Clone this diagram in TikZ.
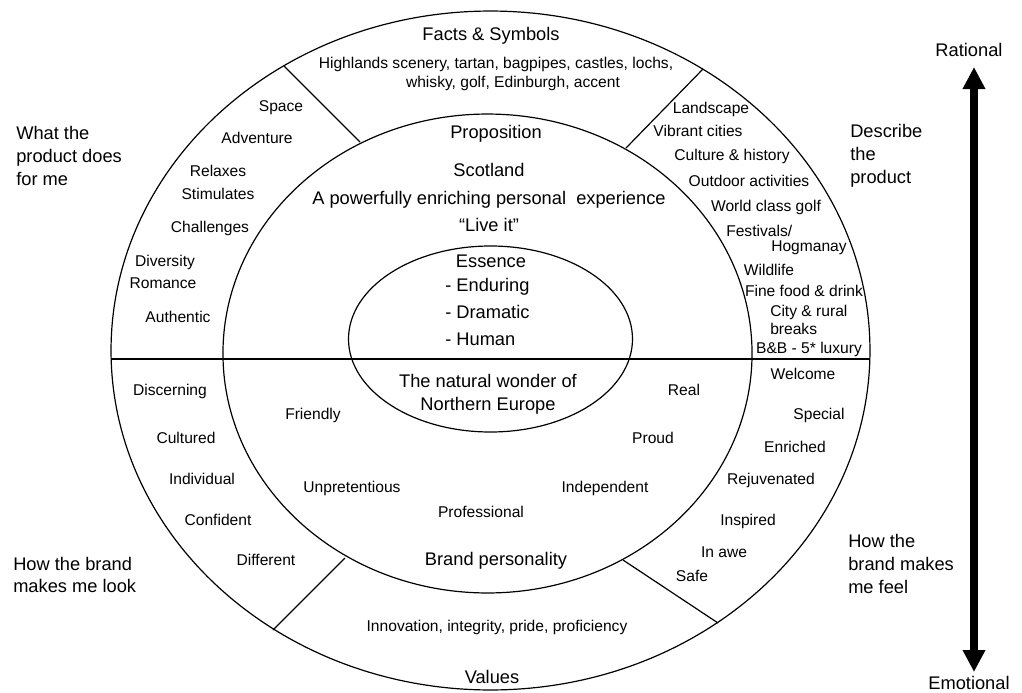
\documentclass[tikz,border=0pt]{standalone}
\usepackage{fontspec}
\setmainfont{Liberation Sans}
\usetikzlibrary{arrows.meta}
\begin{document}
\begin{tikzpicture}[x=0.75pt,y=-0.75pt,
  big/.style={font=\fontsize{13.7}{17.25}\selectfont, inner sep=0pt, text height=0.72em, text depth=0pt},
  small/.style={font=\fontsize{11.7}{14}\selectfont, inner sep=0pt, text height=0.72em, text depth=0pt},
  bigblock/.style={font=\fontsize{13.7}{17.25}\selectfont, inner sep=0pt, align=left, anchor=west},
  ring/.style={line width=0.9pt, black},
  axis/.style={line width=6pt, {Triangle[width=16pt,length=16.5pt]}-{Triangle[width=16pt,length=16.5pt]}}
]
\useasboundingbox (0,0) rectangle (1022,693);

% rings
\draw[ring] (490.5,350.5) ellipse [x radius=284.6pt, y radius=254.6pt];
\draw[ring] (487.5,353.5) ellipse [x radius=198.4pt, y radius=179.6pt];
\draw[ring] (490.5,339) ellipse [x radius=106.5pt, y radius=69.75pt];

% dividers
\coordinate (hl) at (111.1,359);
\coordinate (hr) at (869.9,359);
\coordinate (tlo) at (284,66);
\coordinate (tli) at (360,142);
\coordinate (tro) at (703,69);
\coordinate (tri) at (626,148);
\coordinate (bli) at (345,558);
\coordinate (blo) at (273,630);
\coordinate (bri) at (623,560);
\coordinate (bro) at (718,623);
\draw[ring] (hl) -- (hr);
\draw[ring] (tlo) -- (tli);
\draw[ring] (tro) -- (tri);
\draw[ring] (bli) -- (blo);
\draw[ring] (bri) -- (bro);

% axis arrow
\coordinate (atop) at (974,67);
\coordinate (abot) at (974,672);
\draw[axis] (atop) -- (abot);
\node[big] (rational) at (969,52) {Rational};
\node[big] (emotional) at (969,685) {Emotional};

% outer labels
\node[bigblock] (whatdoes) at (16,156) {What the\\product does\\for me};
\node[bigblock] (describe) at (850,156) {Describe\\the\\product};
\node[bigblock] (feel) at (848,564) {How the\\brand makes\\me feel};
\node[bigblock, font=\fontsize{13.7}{16.5}\selectfont] (look) at (13,575) {How the brand\\makes me look};

% top segment
\node[big] (facts) at (491,36) {Facts \& Symbols};
\node[small] (hl1) at (496,64) {Highlands scenery, tartan, bagpipes, castles, lochs,};
\node[small] (hl2) at (513,83) {whisky, golf, Edinburgh, accent};

% proposition
\node[big] (prop) at (496,134) {Proposition};
\node[big] (scot) at (489,172) {Scotland};
\node[big] (powerful) at (489,200) {A powerfully enriching personal\ \ experience};
\node[big] (live) at (489,227) {“Live it”};

% essence
\node[big] (essence) at (491,263) {Essence};
\node[big, anchor=west] (endur) at (445,287) {- Enduring};
\node[big, anchor=west] (dram) at (445,314) {- Dramatic};
\node[big, anchor=west] (human) at (445,341) {- Human};
\node[big] (natural) at (488,383) {The natural wonder of};
\node[big] (north) at (488,406) {Northern Europe};

% left upper segment
\node[small] (space) at (281,107) {Space};
\node[small] (adv) at (257,139) {Adventure};
\node[small] (relax) at (218,172) {Relaxes};
\node[small] (stim) at (218,195) {Stimulates};
\node[small] (chal) at (210,228) {Challenges};
\node[small] (div) at (165,262) {Diversity};
\node[small] (rom) at (163,284) {Romance};
\node[small] (auth) at (178,318) {Authentic};

% right upper segment
\node[small] (land) at (711,109) {Landscape};
\node[small] (vib) at (698,132) {Vibrant cities};
\node[small] (cult) at (732,156) {Culture \& history};
\node[small] (out) at (749,182) {Outdoor activities};
\node[small] (golf) at (766,207) {World class golf};
\node[small, anchor=west] (fest) at (726,232) {Festivals/};
\node[small] (hog) at (809,247) {Hogmanay};
\node[small] (wild) at (769,271) {Wildlife};
\node[small] (food) at (804,292) {Fine food \& drink};
\node[small, anchor=west] (city) at (770,312) {City \& rural};
\node[small, anchor=west] (breaks) at (770,330) {breaks};
\node[small] (bb) at (809,349) {B\&B - 5* luxury};

% right lower segment
\node[small] (welcome) at (803,375) {Welcome};
\node[small] (special) at (819,415) {Special};
\node[small] (enrich) at (795,448) {Enriched};
\node[small] (rejuv) at (771,480) {Rejuvenated};
\node[small] (insp) at (748,521) {Inspired};
\node[small] (awe) at (724,553) {In awe};
\node[small] (safe) at (692,577) {Safe};

% brand personality
\node[small] (real) at (684,391) {Real};
\node[small] (proud) at (653,439) {Proud};
\node[small] (indep) at (605,488) {Independent};
\node[small] (prof) at (481,513) {Professional};
\node[small] (unpret) at (352,488) {Unpretentious};
\node[small] (friendly) at (313,415) {Friendly};
\node[big] (brandp) at (496,561) {Brand personality};

% left lower segment
\node[small] (disc) at (170,391) {Discerning};
\node[small] (cultured) at (186,439) {Cultured};
\node[small] (indiv) at (202,480) {Individual};
\node[small] (conf) at (218,521) {Confident};
\node[small] (diff) at (266,561) {Different};

% values
\node[small] (innov) at (497,627) {Innovation, integrity, pride, proficiency};
\node[big] (values) at (492,679) {Values};
\end{tikzpicture}
\end{document}
